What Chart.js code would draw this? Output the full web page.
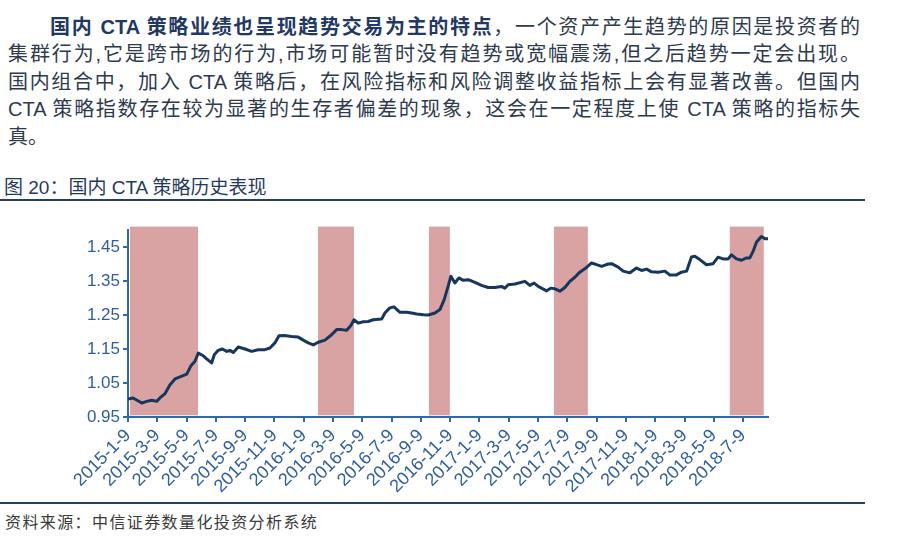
<!DOCTYPE html>
<html>
<head>
<meta charset="utf-8">
<script src="https://cdn.jsdelivr.net/npm/chart.js@4.4.0/dist/chart.umd.min.js"></script>
<style>
    body { margin: 0; background: #fff; }
    #page { position: relative; width: 901px; height: 536px; overflow: hidden; font-family: "Liberation Sans", Arial, "Noto Sans CJK SC", sans-serif; }
    .line { position: absolute; font-size: 20px; line-height: 28px; color: #2E3A4E; white-space: nowrap; }
    .just { text-align: justify; text-align-last: justify; white-space: normal; }
    .line b { color: #1F3864; }
    #title { position: absolute; left: 4px; top: 174px; font-size: 19px; line-height: 28px; color: #1F3A60; }
    .rule { position: absolute; left: 0; width: 865px; height: 2px; background: #243F60; }
    #source { position: absolute; left: 5px; top: 511px; font-size: 16px; line-height: 20px; letter-spacing: 1.4px; color: #3a3a3a; font-family: "Noto Sans CJK SC", sans-serif; }
    #chart { position: absolute; left: 0; top: 205px; }
</style>
</head>
<body>
<div id="page">
    <div class="line just" style="left:50px; top:13px; width:810px;"><b>国内 CTA 策略业绩也呈现趋势交易为主的特点</b>，一个资产产生趋势的原因是投资者的</div>
    <div class="line just" style="left:8px; top:40px; width:852px;">集群行为,它是跨市场的行为,市场可能暂时没有趋势或宽幅震荡,但之后趋势一定会出现。</div>
    <div class="line just" style="left:8px; top:68px; width:852px;">国内组合中，加入 CTA 策略后，在风险指标和风险调整收益指标上会有显著改善。但国内</div>
    <div class="line just" style="left:8px; top:95px; width:852px;">CTA 策略指数存在较为显著的生存者偏差的现象，这会在一定程度上使 CTA 策略的指标失</div>
    <div class="line" style="left:8px; top:123px;">真。</div>

    <div id="title">图 20：国内 CTA 策略历史表现</div>
    <div class="rule" style="top:199px;"></div>

    <canvas id="chart" width="901" height="296"></canvas>

    <div class="rule" style="top:502px; height:1.5px;"></div>
    <div id="source">资料来源：中信证券数量化投资分析系统</div>
</div>

<script>
// Etiquetas del eje X (una cada dos meses).
const xLabels = ['2015-1-9', '2015-3-9', '2015-5-9', '2015-7-9', '2015-9-9', '2015-11-9',
    '2016-1-9', '2016-3-9', '2016-5-9', '2016-7-9', '2016-9-9', '2016-11-9',
    '2017-1-9', '2017-3-9', '2017-5-9', '2017-7-9', '2017-9-9', '2017-11-9',
    '2018-1-9', '2018-3-9', '2018-5-9', '2018-7-9'];
// Marcas del eje Y.
const yTicks = [0.95, 1.05, 1.15, 1.25, 1.35, 1.45];

// Posición de cada punto en meses desde 2015-1-9.
const months = [0, 0.34, 0.59, 0.94, 1.28, 1.62, 1.96, 2.18, 2.53, 2.87, 3.21, 3.55, 4.01, 4.30, 4.57, 4.80,
    5.14, 5.37, 5.71, 5.89, 6.16, 6.44, 6.74, 6.96, 7.19, 7.53, 7.99, 8.44, 8.89, 9.35, 9.69, 10.03, 10.31, 10.67,
    11.17, 11.62, 11.97, 12.31, 12.65, 12.99, 13.45, 13.90, 14.25, 14.59, 14.93, 15.22, 15.43, 15.72, 16.06,
    16.40, 16.74, 17.32, 17.54, 17.88, 18.16, 18.57, 19.02, 19.37, 19.71, 20.16, 20.50, 20.96, 21.30, 21.59, 21.86,
    22.05, 22.32, 22.59, 22.89, 23.23, 23.69, 24.14, 24.59, 25.05, 25.51, 25.73, 25.96, 26.42, 27.10, 27.44,
    27.73, 28.01, 28.58, 28.87, 29.15, 29.49, 29.83, 30.17, 30.51, 30.85, 31.31, 31.65, 31.99, 32.34, 32.79,
    33.02, 33.47, 33.81, 34.27, 34.72, 35.07, 35.41, 35.75, 36.20, 36.66, 36.99, 37.45, 37.79, 38.14, 38.48,
    38.70, 39.04, 39.50, 39.95, 40.29, 40.63, 40.98, 41.21, 41.55, 41.89, 42.23, 42.46, 42.68, 42.91, 43.24,
    43.52, 43.70];
// Valor del índice CTA.
const ctaIndex = [1.003, 1.006, 1.000, 0.991, 0.996, 0.999, 0.996, 1.006, 1.019, 1.045, 1.062, 1.068, 1.076, 1.101, 1.114, 1.138,
    1.130, 1.121, 1.109, 1.133, 1.146, 1.150, 1.143, 1.146, 1.140, 1.156, 1.150, 1.143, 1.148, 1.148, 1.153, 1.168, 1.189, 1.190,
    1.187, 1.185, 1.176, 1.168, 1.162, 1.170, 1.176, 1.192, 1.207, 1.207, 1.205, 1.219, 1.236, 1.226, 1.230,
    1.231, 1.236, 1.238, 1.256, 1.271, 1.274, 1.258, 1.258, 1.256, 1.253, 1.251, 1.250, 1.256, 1.266, 1.295, 1.335,
    1.364, 1.344, 1.359, 1.352, 1.354, 1.346, 1.337, 1.331, 1.331, 1.334, 1.329, 1.339, 1.341, 1.349, 1.337,
    1.344, 1.334, 1.321, 1.329, 1.327, 1.320, 1.331, 1.349, 1.361, 1.376, 1.390, 1.403, 1.398, 1.393, 1.400,
    1.401, 1.391, 1.379, 1.374, 1.388, 1.381, 1.385, 1.377, 1.376, 1.379, 1.368, 1.368, 1.376, 1.379, 1.421,
    1.423, 1.413, 1.398, 1.401, 1.420, 1.415, 1.415, 1.427, 1.415, 1.411, 1.418, 1.418, 1.437, 1.464, 1.481,
    1.474, 1.474];

// Periodos sombreados (inicio y fin, en meses).
const shadeStart = [0.14, 12.97, 20.55, 29.08, 41.09];
const shadeEnd = [4.78, 15.43, 21.98, 31.40, 43.41];

// Se arma el conjunto de puntos a partir de los arreglos.
let points = months.map(function (m, i) {
    return { x: m, y: ctaIndex[i] };
});

const AXIS_BLUE = '#2E69AE';
const LABEL_BLUE = '#2F5E9E';

// Plugin para dibujar las franjas rosadas detrás de la línea.
const shadePlugin = {
    id: 'shade',
    beforeDatasetsDraw(chart) {
        const ctx = chart.ctx;
        const x = chart.scales.x;
        const y = chart.scales.y;
        ctx.save();
        ctx.fillStyle = '#D9A3A3';
        for (let i = 0; i < shadeStart.length; i++) {
            let x0 = x.getPixelForValue(shadeStart[i]);
            let x1 = x.getPixelForValue(shadeEnd[i]);
            let y0 = y.getPixelForValue(1.51);
            let y1 = y.getPixelForValue(0.955);
            ctx.fillRect(x0, y0, x1 - x0, y1 - y0);
        }
        ctx.restore();
    }
};

Chart.defaults.font.family = '"Liberation Sans", Arial, sans-serif';

var ctx = document.getElementById('chart').getContext('2d');
var chart = new Chart(ctx, {
    type: 'line',
    data: {
        datasets: [{
            data: points,
            borderColor: '#17365D',
            borderWidth: 3,
            pointRadius: 0,
            tension: 0,
            borderJoinStyle: 'round',
            fill: false
        }]
    },
    options: {
        responsive: false,
        animation: false,
        layout: { padding: { left: 0, right: 133, top: 25, bottom: 0 } },
        plugins: { legend: { display: false }, tooltip: { enabled: false } },
        scales: {
            x: {
                type: 'linear',
                min: 0,
                max: 43.7,
                afterBuildTicks: function (scale) {
                    scale.ticks = xLabels.map(function (l, i) { return { value: i * 2 }; });
                },
                afterFit: function (scale) { scale.height = 84; },
                ticks: {
                    autoSkip: false,
                    maxRotation: 45,
                    minRotation: 45,
                    padding: 3,
                    color: LABEL_BLUE,
                    font: { size: 18 },
                    callback: function (value) { return xLabels[Math.round(value / 2)]; }
                },
                grid: { drawOnChartArea: false, drawTicks: true, tickLength: 5, color: AXIS_BLUE, lineWidth: 2 },
                border: { display: true, color: AXIS_BLUE, width: 2 }
            },
            y: {
                min: 0.95,
                max: 1.5,
                afterBuildTicks: function (scale) {
                    scale.ticks = yTicks.map(function (v) { return { value: v }; });
                },
                afterFit: function (scale) { scale.width = 128; },
                ticks: {
                    padding: 3,
                    color: LABEL_BLUE,
                    font: { size: 17 },
                    callback: function (value) { return value.toFixed(2); }
                },
                grid: { drawOnChartArea: false, drawTicks: true, tickLength: 5, color: AXIS_BLUE, lineWidth: 2 },
                border: { display: true, color: AXIS_BLUE, width: 2 }
            }
        }
    },
    plugins: [shadePlugin]
});
</script>
</body>
</html>
